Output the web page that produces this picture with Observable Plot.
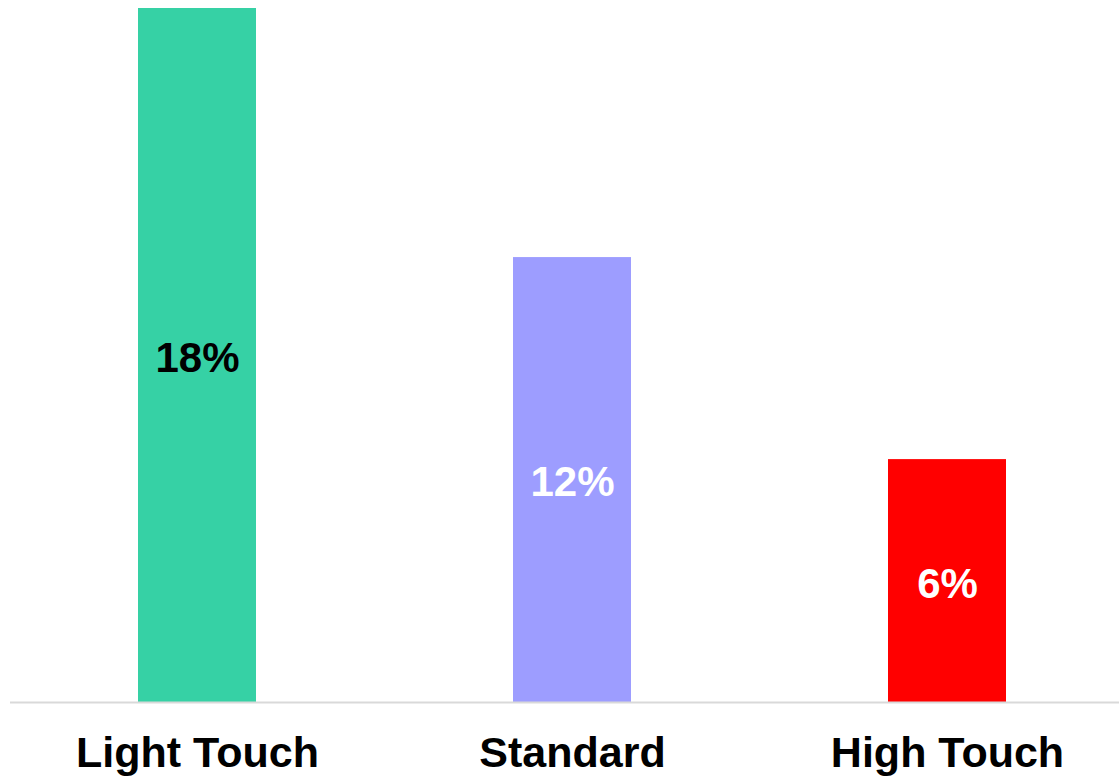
<!DOCTYPE html>
<html>
<head>
<meta charset="utf-8">
<script src="https://cdn.jsdelivr.net/npm/d3@7"></script>
<script src="https://cdn.jsdelivr.net/npm/@observablehq/plot@0.6"></script>
<style>
  html, body { margin: 0; padding: 0; background: #fff; }
  #chart svg { display: block; }
</style>
</head>
<body>
<div id="chart"></div>
<script>
const categories = ["Light Touch", "Standard", "High Touch"];
const values = [0.18, 0.1154, 0.063];
const barColors = ["#36D1A5", "#9D9DFF", "#FF0000"];
const labelColors = ["#000000", "#FFFFFF", "#FFFFFF"];

const data = categories.map((c, i) => ({
  category: c,
  value: values[i],
  label: Math.round(values[i] * 100) + "%",
  fill: barColors[i],
  textFill: labelColors[i]
}));

const chart = Plot.plot({
  width: 1119,
  height: 782,
  marginTop: 8,
  marginBottom: 80,
  marginLeft: 10,
  marginRight: 0,
  style: { fontFamily: "'Liberation Sans', Arial, sans-serif", background: "#fff" },
  x: { domain: categories, paddingInner: 0.685, paddingOuter: 0.321, align: 0.531, label: null },
  y: { domain: [0, 0.18], axis: null },
  marks: [
    Plot.barY(data, { x: "category", y: "value", fill: d => d.fill }),
    Plot.ruleY([0], { stroke: "#d9d9d9", strokeWidth: 2 }),
    Plot.text(data, {
      x: "category",
      y: d => d.value / 2,
      text: "label",
      fill: d => d.textFill,
      fontSize: 42,
      fontWeight: "bold",
      dy: 3
    }),
    Plot.axisX({
      tickSize: 0,
      tickPadding: 34,
      fontSize: 43,
      fontWeight: "bold",
      color: "#000",
      label: null
    })
  ]
});
document.getElementById("chart").appendChild(chart);
</script>
</body>
</html>
